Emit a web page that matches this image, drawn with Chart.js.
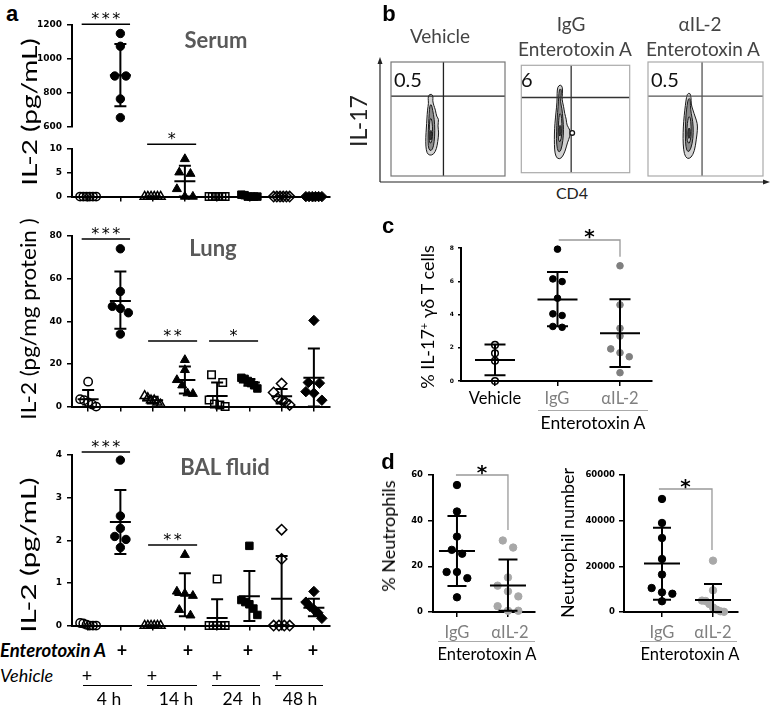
<!DOCTYPE html>
<html><head><meta charset="utf-8">
<script src="https://cdn.jsdelivr.net/npm/chart.js@4.4.1/dist/chart.umd.min.js"></script>
<style>
body{margin:0;background:#fff;width:771px;height:705px;position:relative;overflow:hidden;font-family:Lato,"Open Sans",sans-serif;}
canvas{position:absolute;}
.t{position:absolute;white-space:nowrap;line-height:1;}
.ln{position:absolute;height:0;}
</style></head><body>
<script>
// ================= DATA =================
// Panel a: 8 groups (4h veh, 4h SEA, 14h veh, 14h SEA, 24h veh, 24h SEA, 48h veh, 48h SEA)
const aGroups = [1, 2, 3, 4, 5, 6, 7, 8];
const timeLabels = ['4 h', '14 h', '24  h', '48 h'];
const serumVals = [[0,0,0,0,0,0],[1150,1075,900,900,765,655],[0,0,0,0,0,0],[7.9,5.1,4.8,1.6,0,0],[0,0,0,0,0,0],[0,0,0,0,0.3,0.4],[0,0,0,0,0,0],[0,0,0,0,0,0]];
const serumMean = [null, 905, null, 3.2, null, null, null, null];
const serumHi   = [null, 1088, null, 6.5, null, null, null, null];
const serumLo   = [null, 722, null, 0, null, null, null, null];
const serumUpTicks = [600, 800, 1000, 1200];
const serumLoTicks = [0, 5, 10];

const lungVals = [[11.7,3.5,3,2,1,0],[74,54,47,46,44,34],[5,4,3,3,2,1],[21.9,17.2,12.5,10,6.3,6],[14.9,11.3,3.1,1.2,0.8,0],[13.5,13,12,11,10,8.5],[10.8,6.6,3.9,3,2,0.8],[40.4,11.3,11,7,6.3,3]];
const lungMean = [3.5, 49.5, 3, 12.5, 5, 11.3, 4.8, 13.5];
const lungHi   = [7.8, 63.3, 4.6, 18.8, 11.3, 12.9, 8.2, 27.2];
const lungLo   = [0, 36.5, 1.4, 6.2, 0, 9.8, 1.4, 0];
const lungTicks = [0, 20, 40, 60, 80];

const balVals = [[0,0,0,0.02,0.05,0.06],[3.88,2.57,2.28,2.09,2.02,1.83],[0,0,0,0,0,0],[1.66,0.8,0.75,0.7,0.37,0.24],[1.09,0,0,0,0,0],[1.87,0.6,0.55,0.5,0.4,0.25],[2.25,1.56,0,0,0,0],[0.8,0.55,0.45,0.38,0.3,0.17]];
const balMean = [null, 2.43, null, 0.72, 0.18, 0.69, 0.63, 0.42];
const balHi   = [null, 3.18, null, 1.23, 0.62, 1.28, 1.63, 0.63];
const balLo   = [null, 1.68, null, 0.22, 0, 0.11, 0, 0.22];
const balTicks = [0, 1, 2, 3, 4];

// Panel b: flow contours (data units 0-100), gates, percentages
const flowTitles = [['Vehicle'], ['IgG', 'Enterotoxin A'], ['\u03b1IL-2', 'Enterotoxin A']];
const flowPct = ['0.5', '6', '0.5'];
const flowGateX = [46, 46, 47];
const flowGateY = [70, 70, 70];
const flowContours = [
  [
    [[33,71],[35.5,72],[37,70],[36.5,66],[37.5,62],[39,58],[40,52],[42,50],[41,44],[42,38],[41,30],[40,24],[37.5,19],[34,18],[31.5,20],[30.5,26],[30.5,34],[31,42],[31.5,50],[32,58],[33,64],[32.5,68]],
    [[34,62],[35.5,63],[36.5,58],[38,50],[38.5,40],[38,30],[36.5,23],[34,22],[32.5,26],[32.5,36],[33,46],[33.5,55]],
    [[34,50],[35.5,51],[36.5,44],[36.5,34],[35,28],[33.5,30],[33.5,40]],
    [[34.5,40],[35.5,40],[36,34],[35,31],[34,33]]
  ],
  [
    [[33.5,80],[36,82],[38,80],[38,74],[37.5,68],[39,62],[40,55],[41.5,50],[42,44],[45,40],[45,34],[42.5,28],[40.5,20],[37,13],[33,13],[31,18],[30.5,26],[30.5,36],[31,46],[32,56],[33,66],[33,74]],
    [[35,78],[37,78],[36.8,72],[36,66],[37.5,60],[38.5,50],[39,40],[38.5,30],[36.5,20],[34,19],[32.5,26],[32.5,38],[33,50],[34,62],[34.5,70]],
    [[35,55],[36.8,55],[37.5,46],[37.5,36],[36,28],[34,30],[34,42]],
    [[35,44],[36.5,44],[37,38],[35.5,33],[34.5,37]]
  ],
  [
    [[34,72],[36.5,73],[37.5,69],[37.5,63],[39,58],[41,52],[43,46],[43,40],[42,32],[40.5,22],[37.5,16],[34,15],[31.5,19],[30.5,28],[30.5,38],[31,48],[32,58],[33,66]],
    [[35,68],[36.8,68],[36.8,62],[37.5,55],[39,48],[39.5,38],[38.5,28],[36,21],[33.5,22],[32.5,30],[32.5,42],[33,54],[34,62]],
    [[35,52],[36.8,52],[37.5,44],[37.5,34],[36,28],[34,30],[33.5,40]],
    [[35,42],[36.5,42],[37,36],[35.5,32],[34.5,36]]
  ]
];
const flowDots = [[], [[47,37]], []];

// Panel c: % IL-17+ gd T cells
const cCats = ['Vehicle', 'IgG', '\u03b1IL-2'];
const cX = [1, 2, 3];
const cVals = [[2.17,1.67,1.22,0],[7.93,6.14,5.98,4.98,4.04,3.94,3.28,3.23],[6.93,4.58,3.17,2.7,1.93,1.7,1.46,0.5]];
const cMean = [1.27, 4.9, 2.87];
const cHi = [2.2, 6.55, 4.92];
const cLo = [0.35, 3.3, 0.84];
const cTicks = [0, 2, 4, 6, 8];

// Panel d
const dCats = ['IgG', '\u03b1IL-2'];
const dX = [1, 2];
const dPctVals = [[55.6,44,33,27.2,25.5,17.5,17.5,14.8,6.4],[31.3,28.2,15.1,11.5,9,6.8,2.5,0.5,0.5]];
const dPctMean = [26.7, 11.6];
const dPctHi = [42, 23];
const dPctLo = [11.3, 0.5];
const dPctTicks = [0, 20, 40, 60];
const dNumVals = [[49500,39000,32400,23200,16400,10500,8600,8000,4700],[22500,9500,5000,4800,3500,2000,1000,300,100]];
const dNumMean = [21200, 5300];
const dNumHi = [36900, 12300];
const dNumLo = [5400, 0];
const dNumTicks = [0, 20000, 40000, 60000];

// ================= HELPERS =================
Chart.defaults.animation = false;
function makeCanvas(x, y, w, h) {
  const c = document.createElement('canvas');
  c.width = w; c.height = h;
  c.style.left = x + 'px'; c.style.top = y + 'px';
  c.style.width = w + 'px'; c.style.height = h + 'px';
  document.body.appendChild(c);
  return c;
}
function T(x, y, html, css, rot, align, stretch) {
  const d = document.createElement('div');
  d.className = 't';
  d.innerHTML = html;
  d.style.cssText += 'left:' + x + 'px;top:' + y + 'px;' + (css || '');
  const tx = align === 'left' ? '0' : '-50%';
  d.style.transform = 'translate(' + tx + ',-50%)' + (rot ? ' rotate(' + rot + 'deg)' : '') + (stretch ? ' scaleX(' + stretch + ')' : '');
  document.body.appendChild(d);
  return d;
}
function L(x1, x2, y, color, w) {
  const d = document.createElement('div');
  d.className = 'ln';
  d.style.cssText = 'left:' + x1 + 'px;top:' + (y - w / 2) + 'px;width:' + (x2 - x1) + 'px;border-top:' + w + 'px solid ' + color + ';';
  document.body.appendChild(d);
}

function errPlugin(cfg) {
  return { id: 'errbars', afterDatasetsDraw(chart) {
    const { ctx, scales: { x, y } } = chart;
    ctx.save(); ctx.strokeStyle = '#000'; ctx.lineWidth = cfg.errLW || 2;
    cfg.mean.forEach((m, i) => {
      if (m == null || m < y.min || m > y.max) return;
      const px = x.getPixelForValue(cfg.xs[i]);
      const pm = y.getPixelForValue(m), ph = y.getPixelForValue(cfg.hi[i]), pl = y.getPixelForValue(Math.max(cfg.lo[i], y.min));
      const cw = cfg.capW / 2, mw = cfg.meanW / 2;
      ctx.beginPath();
      ctx.moveTo(px, ph); ctx.lineTo(px, pl);
      ctx.moveTo(px - cw, ph); ctx.lineTo(px + cw, ph);
      ctx.moveTo(px - cw, pl); ctx.lineTo(px + cw, pl);
      ctx.moveTo(px - mw, pm); ctx.lineTo(px + mw, pm);
      ctx.stroke();
    });
    ctx.restore();
  } };
}
function sigPlugin(cfg) {
  return { id: 'sig', afterDraw(chart) {
    const { ctx, scales: { x, y } } = chart;
    (cfg.sig || []).forEach(it => {
      const x1 = x.getPixelForValue(it.x1), x2 = x.getPixelForValue(it.x2), py = y.getPixelForValue(it.y);
      ctx.save();
      ctx.strokeStyle = cfg.sigColor || '#000'; ctx.lineWidth = cfg.sigLW || 1.5;
      ctx.beginPath(); ctx.moveTo(x1, py); ctx.lineTo(x2, py);
      if (it.drop != null) ctx.lineTo(x2, y.getPixelForValue(it.drop));
      ctx.stroke();
      ctx.fillStyle = '#000'; ctx.font = cfg.starFont; ctx.textAlign = 'center'; ctx.textBaseline = 'alphabetic';
      const cm = (x1 + x2) / 2;
      for (let k = 0; k < it.n; k++) ctx.fillText('*', cm + (k - (it.n - 1) / 2) * cfg.starSp, py + cfg.starDy);
      ctx.restore();
    });
  } };
}
function jitter(chart, cfg) {
  const x = chart.scales.x, y = chart.scales.y;
  const ppx = Math.abs(x.getPixelForValue(1) - x.getPixelForValue(0));
  chart.data.datasets.forEach(ds => {
    const vals = ds._vals; if (!vals || !vals.length) return;
    const idx = vals.map((v, i) => i).sort((a, b) => vals[b] - vals[a]);
    const py = vals.map(v => y.getPixelForValue(v));
    const clusters = []; let cur = [idx[0]];
    for (let k = 1; k < idx.length; k++) {
      if (Math.abs(py[idx[k]] - py[idx[k - 1]]) < cfg.diam) cur.push(idx[k]); else { clusters.push(cur); cur = [idx[k]]; }
    }
    clusters.push(cur);
    const offs = vals.map(() => 0);
    clusters.forEach(c => {
      const n = c.length; if (n < 2) return;
      const step = Math.min(cfg.diam * 1.4, cfg.maxW / (n - 1));
      c.forEach((id, j) => { offs[id] = (j - (n - 1) / 2) * step; });
    });
    ds.data = vals.map((v, i) => ({ x: ds._g + offs[i] / ppx, y: v }));
  });
  chart.update('none');
}
function dotChart(cfg) {
  const yw = cfg.yw, padT = cfg.padT, padR = cfg.padR || 10, xh = 10;
  const p = cfg.plot;
  const cv = makeCanvas(p.l - yw, p.t - padT, (p.r - p.l) + yw + padR, (p.b - p.t) + padT + xh);
  const grid = { drawOnChartArea: false, drawTicks: true, tickLength: cfg.tickLen || 5, color: '#000', lineWidth: 1.5 };
  const border = { display: true, color: '#000', width: 2 };
  const datasets = cfg.groups.map((vals, i) => {
    const st = cfg.styles[i];
    return { data: vals.map(v => ({ x: cfg.xs[i], y: v })), _vals: vals, _g: cfg.xs[i],
      pointStyle: st.s, pointRadius: st.r, pointHoverRadius: st.r, backgroundColor: st.bg, borderColor: st.bc,
      borderWidth: st.bw, clip: false };
  });
  const chart = new Chart(cv, { type: 'scatter', data: { datasets }, options: {
    responsive: false, animation: false, devicePixelRatio: 1, events: [],
    layout: { padding: { left: 0, top: padT, right: padR, bottom: cfg.showX === false ? xh : 0 } },
    plugins: { legend: { display: false }, tooltip: { enabled: false } },
    scales: {
      x: { type: 'linear', display: cfg.showX !== false, min: cfg.xmin, max: cfg.xmax,
        afterBuildTicks: s => { s.ticks = cfg.xs.map(v => ({ value: v })); },
        afterFit: s => { s.height = xh; }, ticks: { display: false }, grid, border },
      y: { type: 'linear', min: cfg.ymin, max: cfg.ymax,
        afterBuildTicks: s => { s.ticks = cfg.yTicks.map(v => ({ value: v })); },
        afterFit: s => { s.width = yw; },
        ticks: { color: '#000', font: { family: 'DejaVu Sans', weight: 'bold', size: cfg.tickSize }, padding: cfg.tickPad || 5, callback: v => String(v) },
        grid: Object.assign({}, grid, { tickLength: cfg.yTickLen || cfg.tickLen || 5 }), border }
    } }, plugins: [errPlugin(cfg), sigPlugin(cfg)] });
  jitter(chart, cfg);
  return chart;
}

// marker styles
const OPEN = 'rgba(255,255,255,0)';
function mk(s, filled, r, color) { return { s, r, bg: filled ? (color || '#000') : OPEN, bc: color || '#000', bw: filled ? 1 : 1.5 }; }
const aStyles = [mk('circle', false, 4.2), mk('circle', true, 4.2), mk('triangle', false, 5.2), mk('triangle', true, 5.2),
  mk('rect', false, 5.3), mk('rect', true, 5.3), mk('rectRot', false, 5.2), mk('rectRot', true, 5.2)];
const aCommon = { xs: aGroups, xmin: 0.5, xmax: 8.5, yw: 45, tickSize: 9, diam: 8, maxW: 16, capW: 12, meanW: 21, errLW: 2,
  styles: aStyles, starFont: '16px "DejaVu Sans"', starSp: 10.5, starDy: 0 };

// ================= PANEL a =================
dotChart(Object.assign({}, aCommon, { plot: { l: 72, t: 25, r: 330, b: 137 }, padT: 20, showX: false,
  groups: serumVals.map(a => a.filter(v => v >= 600)), ymin: 600, ymax: 1200, yTicks: serumUpTicks,
  mean: serumMean, hi: serumHi, lo: serumLo, sig: [{ x1: 0.8, x2: 2.3, y: 1205, n: 3 }] }));
dotChart(Object.assign({}, aCommon, { plot: { l: 72, t: 149, r: 330, b: 197 }, padT: 20,
  groups: serumVals.map(a => a.filter(v => v <= 10)), ymin: 0, ymax: 10, yTicks: serumLoTicks,
  mean: serumMean, hi: serumHi, lo: serumLo, sig: [{ x1: 2.83, x2: 4.35, y: 11, n: 1 }] }));
dotChart(Object.assign({}, aCommon, { plot: { l: 72, t: 236, r: 330, b: 407 }, padT: 24,
  groups: lungVals, ymin: 0, ymax: 80, yTicks: lungTicks, mean: lungMean, hi: lungHi, lo: lungLo,
  sig: [{ x1: 0.8, x2: 2.3, y: 78.6, n: 3 }, { x1: 2.86, x2: 4.38, y: 30.8, n: 2 }, { x1: 4.75, x2: 6.27, y: 30.8, n: 1 }] }));
dotChart(Object.assign({}, aCommon, { plot: { l: 72, t: 455, r: 330, b: 626 }, padT: 24,
  groups: balVals, ymin: 0, ymax: 4, yTicks: balTicks, mean: balMean, hi: balHi, lo: balLo,
  sig: [{ x1: 0.8, x2: 2.3, y: 4.07, n: 3 }, { x1: 2.86, x2: 4.38, y: 1.89, n: 2 }] }));

T(12, 14, 'a', 'font-family:"Liberation Sans";font-weight:bold;font-size:22px;');
const titleCss = 'font-weight:bold;color:#595959;font-size:22px;';
T(216, 40, 'Serum', titleCss);
T(213, 248, 'Lung', titleCss);
T(225, 467, 'BAL fluid', titleCss);
const ytCss = 'font-size:21px;color:#000;';
T(28, 112, 'IL-2 (pg/mL)', ytCss, -90, null, 1.33);
T(27, 319, 'IL-2 (pg/mg protein )', ytCss, -90, null, 1.07);
T(27, 555, 'IL-2 (pg/mL)', ytCss, -90, null, 1.4);
T(0, 650, 'Enterotoxin A', 'font-weight:bold;font-style:italic;font-size:18.5px;', 0, 'left');
T(0, 675, 'Vehicle', 'font-style:italic;font-size:18px;', 0, 'left');
const plusSEA = [122, 188, 248, 313], plusVeh = [87, 152, 217, 277];
plusSEA.forEach(x => T(x, 650, '+', 'font-weight:bold;font-size:18px;'));
plusVeh.forEach(x => T(x, 675, '+', 'font-size:18px;'));
const ulines = [[83, 132], [147, 197], [212, 260], [275, 323]];
ulines.forEach(u => L(u[0], u[1], 686, '#000', 1.5));
const tlx = [109, 176, 242, 300];
timeLabels.forEach((s, i) => T(tlx[i], 699, s.replace(/ /g, '&nbsp;'), 'font-size:17.5px;'));

// ================= PANEL b =================
T(389, 14, 'b', 'font-family:"Liberation Sans";font-weight:bold;font-size:22px;');
const boxes = [{ l: 391, t: 62, r: 505, b: 176, bc: '#777', gc: '#222' }, { l: 518, t: 62, r: 633, b: 176, bc: '#aaa', gc: '#333' }, { l: 648, t: 62, r: 763, b: 176, bc: '#aaa', gc: '#555' }];
function smoothClosed(ctx, pts) {
  const n = pts.length, mid = (a, b) => [(a[0] + b[0]) / 2, (a[1] + b[1]) / 2];
  let m = mid(pts[n - 1], pts[0]); ctx.moveTo(m[0], m[1]);
  for (let i = 0; i < n; i++) { const p = pts[i], q = pts[(i + 1) % n], m2 = mid(p, q); ctx.quadraticCurveTo(p[0], p[1], m2[0], m2[1]); }
  ctx.closePath();
}
const levelFill = ['#d2d2d2', '#8c8c8c', '#c0c0c0', '#4a4a4a'];
boxes.forEach((bx, si) => {
  const cv = makeCanvas(bx.l - 2, bx.t - 2, bx.r - bx.l + 4, bx.b - bx.t + 4);
  new Chart(cv, { type: 'scatter', data: { datasets: [{ data: flowDots[si].map(p => ({ x: p[0], y: p[1] })), pointRadius: 2.3, backgroundColor: '#fff', borderColor: '#111', borderWidth: 1.3 }] },
    options: { responsive: false, animation: false, devicePixelRatio: 1, events: [], layout: { padding: 2 },
      plugins: { legend: { display: false }, tooltip: { enabled: false } },
      scales: { x: { display: false, min: 0, max: 100 }, y: { display: false, min: 0, max: 100 } } },
    plugins: [{ id: 'flow', beforeDatasetsDraw(chart) {
      const { ctx, scales: { x, y }, chartArea: ca } = chart;
      ctx.save();
      flowContours[si].forEach((lev, li) => {
        const pts = lev.map(p => [x.getPixelForValue(p[0]), y.getPixelForValue(p[1])]);
        ctx.beginPath(); smoothClosed(ctx, pts);
        ctx.fillStyle = levelFill[li]; ctx.fill();
        ctx.strokeStyle = '#1a1a1a'; ctx.lineWidth = 1; ctx.stroke();
      });
      ctx.strokeStyle = bx.gc; ctx.lineWidth = 1.3;
      const gx = x.getPixelForValue(flowGateX[si]), gy = y.getPixelForValue(flowGateY[si]);
      ctx.beginPath(); ctx.moveTo(gx, ca.top); ctx.lineTo(gx, ca.bottom); ctx.moveTo(ca.left, gy); ctx.lineTo(ca.right, gy); ctx.stroke();
      ctx.strokeStyle = bx.bc; ctx.lineWidth = 1.2; ctx.strokeRect(ca.left, ca.top, ca.right - ca.left, ca.bottom - ca.top);
      ctx.restore();
    } }] });
  T(bx.l + 3, 79, flowPct[si], 'font-size:20px;color:#111;', 0, 'left');
});
const ftCss = 'font-size:19px;color:#444;';
T(440, 35, flowTitles[0][0], ftCss);
T(571, 23, flowTitles[1][0], ftCss); T(575, 48, flowTitles[1][1], ftCss);
T(700, 23, flowTitles[2][0], ftCss); T(703, 48, flowTitles[2][1], ftCss);
T(358, 121, 'IL-17', 'font-size:23px;color:#222;', -90);
T(572, 193, 'CD4', 'font-size:16px;color:#222;');
document.body.insertAdjacentHTML('beforeend', '<svg style="position:absolute;left:0;top:0" width="771" height="705"><g stroke="#222" stroke-width="1.2" fill="#222"><line x1="380" y1="182" x2="380" y2="62"/><line x1="380" y1="182" x2="765" y2="182"/><path d="M380,57 L377.5,64 L382.5,64 Z" stroke="none"/><path d="M770,182 L763,179.5 L763,184.5 Z" stroke="none"/></g></svg>');

// ================= PANEL c =================
T(388, 226, 'c', 'font-family:"Liberation Sans";font-weight:bold;font-size:22px;');
dotChart({ plot: { l: 461, t: 248, r: 652, b: 381 }, padT: 28, padR: 8, yw: 22, xs: cX, xmin: 0.456, xmax: 3.512,
  groups: cVals, styles: [mk('circle', false, 3.3), mk('circle', true, 3.3), mk('circle', true, 3.3, '#7f7f7f')],
  ymin: 0, ymax: 8, yTicks: cTicks, tickSize: 6, tickPad: 4, yTickLen: 3, tickLen: 5, diam: 6.6, maxW: 20,
  mean: cMean, hi: cHi, lo: cLo, capW: 21, meanW: 40, errLW: 2,
  sig: [{ x1: 2.02, x2: 3, y: 8.48, drop: 7.47, n: 1 }], sigColor: '#999', sigLW: 1.3,
  starFont: 'bold 20px "DejaVu Sans"', starSp: 0, starDy: 3 });
T(427, 317, '% IL-17<sup style="font-size:60%;vertical-align:55%">+</sup> \u03b3\u03b4 T cells', 'font-size:18px;', -90);
const cLabX = [495, 557, 620];
cCats.forEach((s, i) => T(cLabX[i], 398, s, 'font-size:16.5px;color:' + (i === 0 ? '#000' : '#808080') + ';'));
L(538, 648, 411, '#aaa', 1.5);
T(593, 423, 'Enterotoxin A', 'font-size:17.5px;');

// ================= PANEL d =================
T(388, 462, 'd', 'font-family:"Liberation Sans";font-weight:bold;font-size:22px;');
const dStyles = [mk('circle', true, 3.7), mk('circle', true, 3.7, '#a8a8a8')];
dotChart({ plot: { l: 433, t: 475, r: 535, b: 612 }, padT: 18, padR: 8, yw: 40, xs: dX, xmin: 0.53, xmax: 2.53,
  groups: dPctVals, styles: dStyles, ymin: 0, ymax: 60, yTicks: dPctTicks, tickSize: 8.5, tickPad: 5, diam: 7.4, maxW: 22,
  mean: dPctMean, hi: dPctHi, lo: dPctLo, capW: 19, meanW: 36, errLW: 2,
  sig: [{ x1: 0.98, x2: 2, y: 60, drop: 35.9, n: 1 }], sigColor: '#999', sigLW: 1.3,
  starFont: 'bold 20px "DejaVu Sans"', starSp: 0, starDy: 4 });
dotChart({ plot: { l: 624, t: 475, r: 738, b: 612 }, padT: 18, padR: 8, yw: 40, xs: dX, xmin: 0.255, xmax: 2.49,
  groups: dNumVals, styles: dStyles, ymin: 0, ymax: 60000, yTicks: dNumTicks, tickSize: 8.5, tickPad: 4, diam: 7.4, maxW: 22,
  mean: dNumMean, hi: dNumHi, lo: dNumLo, capW: 18, meanW: 36, errLW: 2,
  sig: [{ x1: 0.94, x2: 1.98, y: 53870, drop: 27150, n: 1 }], sigColor: '#999', sigLW: 1.3,
  starFont: 'bold 20px "DejaVu Sans"', starSp: 0, starDy: 4 });
T(388, 536, '% Neutrophils', 'font-size:18px;', -90);
T(567, 543, 'Neutrophil number', 'font-size:18px;', -90);
const dLabL = [457, 510], dLabR = [662, 713];
dCats.forEach((s, i) => { T(dLabL[i], 632, s, 'font-size:16.5px;color:#808080;'); T(dLabR[i], 632, s, 'font-size:16.5px;color:#808080;'); });
L(438, 535, 642, '#aaa', 1.5);
L(640, 737, 642, '#aaa', 1.5);
T(487, 654, 'Enterotoxin A', 'font-size:16.5px;');
T(690, 654, 'Enterotoxin A', 'font-size:16.5px;');
</script>
</body></html>
